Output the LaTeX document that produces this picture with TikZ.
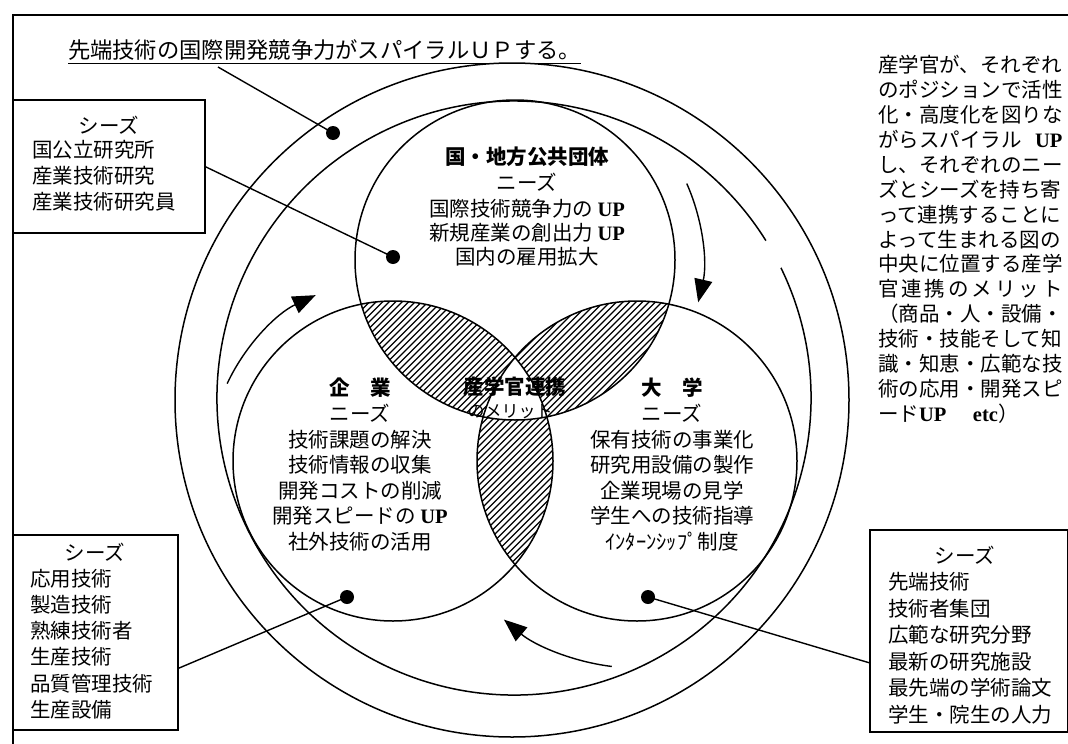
\documentclass[tikz,border=0pt]{standalone}
\usepackage{fontspec}
\setmainfont{Noto Sans CJK JP}
\newfontfamily\latf{Liberation Serif}
\usetikzlibrary{arrows.meta,calc}
\newcommand{\myUP}{{\latf\bfseries UP}}
\newcommand{\myetc}{{\latf\bfseries etc}}
\newcommand{\hatchlines}{\foreach \s in {470,476.5,...,1420} \draw[hatchline] ({\s-230},230) -- ({\s-620},620);}
\begin{document}
\begin{tikzpicture}[x=1pt,y=-1pt,
  line width=1.4pt,
  every node/.style={inner sep=0pt, outer sep=0pt},
  txt/.style={font=\fontsize{20.5}{25}\selectfont},
  btxt/.style={font=\bfseries\fontsize{20.5}{25}\selectfont},
  dot/.style={circle, fill=black, minimum size=14pt},
  box/.style={draw, line width=1.4pt, anchor=north west, fill=white},
  cw/.style={line width=1.4pt, -{Triangle[length=23pt,width=18pt]}},
  hatchline/.style={line width=1.1pt},
  ringline/.style={line width=1.5pt}
]
\useasboundingbox (0,0) rectangle (1068,744);
\fill[white] (0,0) rectangle (1068,744);

% frame
\draw[line width=1.5pt] (13,744) -- (13,15) -- (1068,15);

% centres
\coordinate (T) at (515,260);
\coordinate (L) at (393,461);
\coordinate (R) at (637,461);
\coordinate (O) at (514,398);
\coordinate (OO) at (512,400);

% hatched pairwise overlaps
\begin{scope}
  \clip (T) circle[radius=160];
  \clip (L) circle[radius=160];
  \hatchlines
\end{scope}
\begin{scope}
  \clip (T) circle[radius=160];
  \clip (R) circle[radius=160];
  \hatchlines
\end{scope}
\begin{scope}
  \clip (L) circle[radius=160];
  \clip (R) circle[radius=160];
  \hatchlines
\end{scope}
\begin{scope}
  \clip (T) circle[radius=160];
  \clip (L) circle[radius=160];
  \fill[white] (R) circle[radius=160];
\end{scope}

% circles
\draw[ringline] (T) circle[radius=160];
\draw[ringline] (L) circle[radius=160];
\draw[ringline] (R) circle[radius=160];
\draw[ringline] (OO) circle[radius=337];
\draw[ringline] (O) ++(-26:297) arc[start angle=-26, end angle=328, radius=297];

% circulation arrows
\draw[cw] (L) ++(205:183) arc[start angle=205, end angle=245, radius=183];
\draw[cw] (T) ++(-24:188) arc[start angle=-24, end angle=13, radius=188];
\draw[cw] (R) ++(97:207) arc[start angle=97, end angle=130, radius=207];

% title
\node[font=\fontsize{22.3}{26}\selectfont, anchor=base west] (title) at (68,58) {先端技術の国際開発競争力がスパイラルＵＰする。};
\draw[line width=1pt] ($(title.base west)+(0,5)$) -- ($(title.base east)+(0,5)$);
\coordinate (t1) at ($(title.base west)+(150,9)$);

% boxes
\node[box, minimum width=192pt, minimum height=133pt] (ulbox) at (13,100) {};
\node[box, minimum width=165pt, minimum height=195pt] (llbox) at (13,535) {};
\node[box, minimum width=198pt, minimum height=202pt] (rbox) at (870,530) {};

\node[txt] (uls) at (109,125) {シーズ};
\foreach \t [count=\i] in {国公立研究所,産業技術研究,産業技術研究員}
  \node[txt, anchor=west] (ul\i) at (32,{124+26*\i}) {\t};

\node[txt] (lls) at (95,552) {シーズ};
\foreach \t [count=\i] in {応用技術,製造技術,熟練技術者,生産技術,品質管理技術,生産設備}
  \node[txt, anchor=west] (ll\i) at (30,{552+26.3*\i}) {\t};

\node[txt] (rs) at (965,555) {シーズ};
\foreach \t [count=\i] in {先端技術,技術者集団,広範な研究分野,最新の研究施設,最先端の学術論文,学生・院生の人力}
  \node[txt, anchor=west] (rb\i) at (888,{555+26.6*\i}) {\t};

% right column
\foreach \t [count=\i] in {産学官が、それぞれ,のポジションで活性,化・高度化を図りな,\makebox[184.5pt][s]{がらスパイラル\hfill\myUP},し、それぞれのニー,ズとシーズを持ち寄,って連携することに,よって生まれる図の,中央に位置する産学,\makebox[184.5pt][s]{官\hfill 連\hfill 携\hfill の\hfill メ\hfill リ\hfill ッ\hfill ト},（商品・人・設備・,技術・技能そして知,識・知恵・広範な技,術の応用・開発スピ,ード\myUP\hspace{1.3em}\myetc）}
  \node[txt, anchor=west] (rc\i) at (878,{40+24.9*\i}) {\t};

% top circle text
\node[btxt] (g1) at (527,157) {国・地方公共団体};
\node[txt] (g2) at (527,182) {ニーズ};
\node[txt] (g3) at (527,209) {国際技術競争力の \myUP};
\node[txt] (g4) at (527,233) {新規産業の創出力 \myUP};
\node[txt] (g5) at (527,257) {国内の雇用拡大};

% left circle text
\node[btxt] (k1) at (360,388) {企　業};
\node[txt] (k2) at (360,413) {ニーズ};
\node[txt] (k3) at (360,440) {技術課題の解決};
\node[txt] (k4) at (360,465) {技術情報の収集};
\node[txt] (k5) at (360,491) {開発コストの削減};
\node[txt] (k6) at (360,516) {開発スピードの \myUP};
\node[txt] (k7) at (360,542) {社外技術の活用};

% right circle text
\node[btxt] (u1) at (672,388) {大　学};
\node[txt] (u2) at (672,413) {ニーズ};
\node[txt] (u3) at (672,440) {保有技術の事業化};
\node[txt] (u4) at (672,465) {研究用設備の製作};
\node[txt] (u5) at (672,491) {企業現場の見学};
\node[txt] (u6) at (672,516) {学生への技術指導};
\node[txt] (u7) at (672,542) {ｲﾝﾀｰﾝｼｯﾌﾟ制度};

% centre text
\node[btxt] (m1) at (515,387) {産学官連携};
\node[font=\fontsize{17}{20}\selectfont] (m2) at (510,412) {のメリット};

% dots and leaders
\node[dot] (d1) at (333,133) {};
\node[dot] (d2) at (393,257) {};
\node[dot] (d3) at (347,597) {};
\node[dot] (d4) at (648,597) {};
\draw[line width=1.4pt] (t1) -- (d1.center);
\draw[line width=1.4pt] (ulbox.east) -- (d2.center);
\draw[line width=1.4pt] ($(llbox.east)+(0,36)$) -- (d3.center);
\draw[line width=1.4pt] ($(rbox.west)+(0,32)$) -- (d4.center);
\end{tikzpicture}
\end{document}
